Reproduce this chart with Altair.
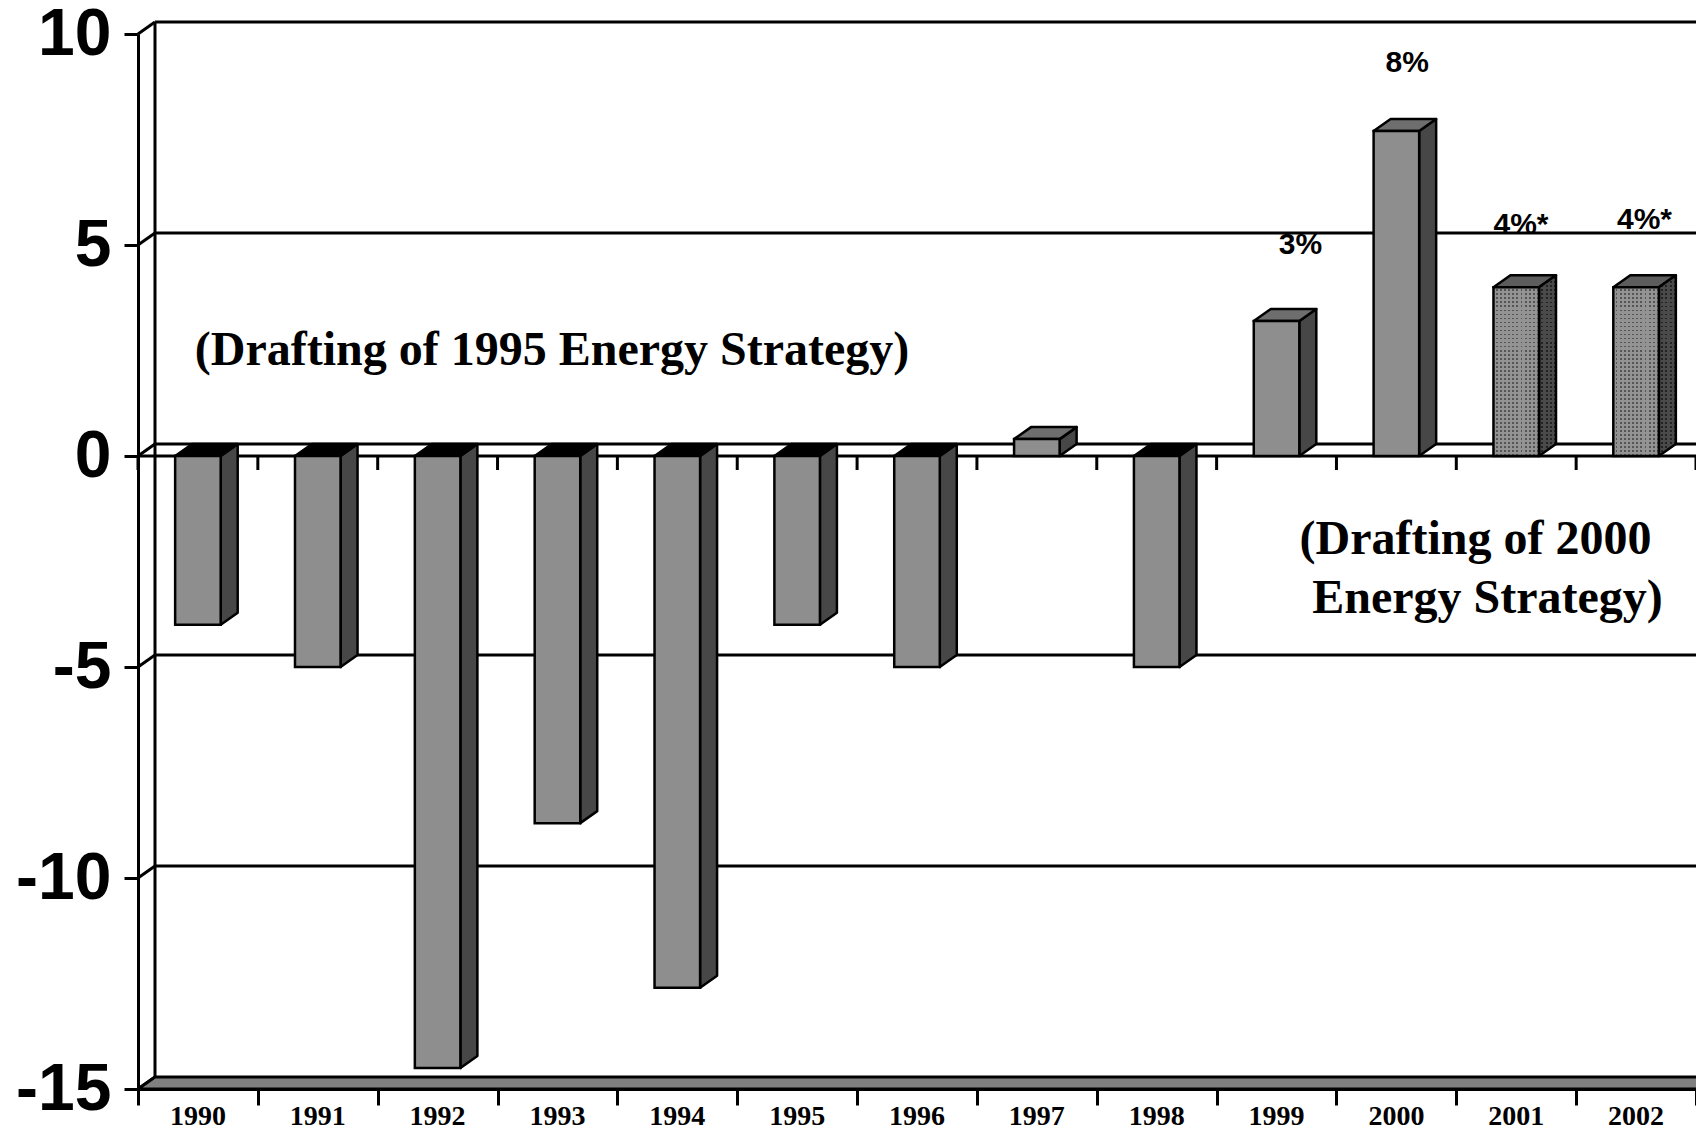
import altair as alt
import pandas as pd

# ---------------- data ----------------
years = ["1990", "1991", "1992", "1993", "1994", "1995", "1996",
         "1997", "1998", "1999", "2000", "2001", "2002"]
values = [-4.0, -5.0, -14.5, -8.7, -12.6, -4.0, -5.0, 0.4, -5.0, 3.2, 7.7, 4.0, 4.0]
projected = [False] * 11 + [True, True]

pct_labels = ["3%", "8%", "4%*", "4%*"]
pct_x = [9.70, 10.59, 11.54, 12.57]      # position in category units
pct_y = [5.01, 9.31, 5.47, 5.60]

note_texts = ["(Drafting of 1995 Energy Strategy)", "(Drafting of 2000", "Energy Strategy)"]
note_x = [3.455, 11.16, 11.26]
note_y = [2.49, -1.99, -3.39]

y_ticks = [-15, -10, -5, 0, 5, 10]
y_min, y_max = -15, 10

# ---------------- geometry / style ----------------
W, H = 1558, 1055
N = len(years)
PX_X = W / N
PX_Y = H / (y_max - y_min)
BAR_L, BAR_R = 0.31, 0.69          # front face inside a category
DX = 17 / PX_X                     # 3-D depth, in category units
DY = 12 / PX_Y                     # 3-D depth, in value units

xs = alt.Scale(domain=[0, N], nice=False, zero=False)
ys = alt.Scale(domain=[y_min, y_max], nice=False, zero=False)

kinds = ["front", "side", "top", "top_p", "top_neg"]
kind_cols = ["#8e8e8e", "#474747", "#6e6e6e", "#5c5c5c", "#000000"]
cscale = alt.Scale(domain=kinds, range=kind_cols)


def stripes(n, light, dark, frac_dark, along_x):
    stops = []
    for k in range(n):
        a, e = k / n, (k + 1) / n
        b = (k + 1 - frac_dark) / n
        stops += [{"offset": a, "color": light}, {"offset": b, "color": light},
                  {"offset": b, "color": dark}, {"offset": e, "color": dark}]
    return {"gradient": "linear", "x1": 0, "y1": 0,
            "x2": 1 if along_x else 0, "y2": 0 if along_x else 1, "stops": stops}


# faces built from values
front_rows, side_rows, top_rows = [], [], []
for i, (v, p) in enumerate(zip(values, projected)):
    xl, xr = i + BAR_L, i + BAR_R
    front_rows.append(dict(id=i, x=xl, x2=xr, y=0, y2=v, kind="front", proj=p))
    side_rows += [dict(id=i, x=xr, y=0, y2=v, kind="side", proj=p),
                  dict(id=i, x=xr + DX, y=DY, y2=v + DY, kind="side", proj=p)]
    t = max(v, 0)
    tk = "top_neg" if v < 0 else ("top_p" if p else "top")
    top_rows += [dict(id=i, x=xl, y=t, y2=t, kind=tk),
                 dict(id=i, x=xl + DX, y=t, y2=t + DY, kind=tk),
                 dict(id=i, x=xr, y=t, y2=t + DY, kind=tk),
                 dict(id=i, x=xr + DX, y=t + DY, y2=t + DY, kind=tk)]
front_df = pd.DataFrame(front_rows)
side_df = pd.DataFrame(side_rows)
top_df = pd.DataFrame(top_rows)

# floor at the bottom
floor_df = pd.DataFrame([
    dict(x=0, y=y_min, y2=y_min),
    dict(x=DX, y=y_min, y2=y_min + DY),
    dict(x=N, y=y_min, y2=y_min + DY),
    dict(x=N + DX, y=y_min + DY, y2=y_min + DY),
])

# wall lines
seg = []
for v in y_ticks:
    seg.append(dict(x=0, x2=DX, y=v, y2=v + DY))                 # side-wall diagonals
    if v > y_min:
        seg.append(dict(x=DX, x2=N + DX, y=v + DY, y2=v + DY))    # back-wall gridlines
seg.append(dict(x=DX, x2=DX, y=y_min + DY, y2=y_max + DY))        # back-left edge
seg.append(dict(x=0, x2=N, y=0, y2=0))                            # zero category axis
zt = 14 / PX_Y
for k in range(N + 1):
    seg.append(dict(x=k, x2=k, y=0, y2=-zt))                      # ticks on zero axis
seg_df = pd.DataFrame(seg)

year_df = pd.DataFrame(dict(x=[i + 0.5 for i in range(N)], y=[y_min] * N, t=years))
pct_df = pd.DataFrame(dict(x=pct_x, y=pct_y, t=pct_labels))
note_df = pd.DataFrame(dict(x=note_x, y=note_y, t=note_texts))

X = lambda f="x": alt.X(f + ":Q", scale=xs, axis=alt.Axis(
    values=list(range(N + 1)), labels=False, tickSize=16, tickWidth=3, tickColor="black",
    domainColor="black", domainWidth=3, title=None, grid=False))
Y = lambda f="y": alt.Y(f + ":Q", scale=ys, stack=None, axis=alt.Axis(
    values=y_ticks, labelFont="Liberation Sans",
    labelFontSize=66, labelFontWeight="bold",
    labelColor="black", labelPadding=13, tickSize=14, tickWidth=3, tickColor="black",
    domainColor="black", domainWidth=3, title=None, grid=False,
    labelExpr="replace(datum.label, '\u2212', '-')"))

lines = alt.Chart(seg_df).mark_rule(color="black", strokeWidth=3).encode(
    x=X(), x2="x2:Q", y=Y(), y2="y2:Q")

floor = alt.Chart(floor_df).mark_area(color="#808080", stroke="black", strokeWidth=3,
                                      interpolate="linear").encode(x=X(), y=Y(), y2="y2:Q")

hist_side = side_df[~side_df.proj]
proj_side = side_df[side_df.proj]
hist_front = front_df[~front_df.proj]
proj_front = front_df[front_df.proj]

sides = alt.Chart(hist_side).mark_area(stroke="black", strokeWidth=2.5, interpolate="linear",
                                       strokeJoin="round").encode(
    x=X(), y=Y(), y2="y2:Q", detail="id:N",
    color=alt.Color("kind:N", scale=cscale, legend=None))
tops = alt.Chart(top_df).mark_area(stroke="black", strokeWidth=2.5, interpolate="linear",
                                   strokeJoin="round").encode(
    x=X(), y=Y(), y2="y2:Q", detail="id:N",
    color=alt.Color("kind:N", scale=cscale, legend=None))
fronts = alt.Chart(hist_front).mark_rect(stroke="black", strokeWidth=2.5).encode(
    x=X(), x2="x2:Q", y=Y(), y2="y2:Q",
    color=alt.Color("kind:N", scale=cscale, legend=None))

# dotted texture of the forecast bars (2001, 2002)
proj_layers = []
for i in [k for k, p in enumerate(projected) if p]:
    v = values[i]
    fw = (BAR_R - BAR_L) * PX_X
    fh = abs(v) * PX_Y
    fr = proj_front[proj_front.id == i]
    sd = proj_side[proj_side.id == i]
    proj_layers += [
        alt.Chart(sd).mark_area(interpolate="linear", strokeWidth=0,
                                fill=stripes(max(1, round(DX * PX_X / 4)), "#4a4a4a", "#222222", 0.45, True)
                                ).encode(x=X(), y=Y(), y2="y2:Q"),
        alt.Chart(sd).mark_area(interpolate="linear", stroke="black", strokeWidth=2.5, strokeJoin="round",
                                fill=stripes(round((fh + 12) / 4), "#4a4a4a", "rgba(0,0,0,0)", 0.45, False)
                                ).encode(x=X(), y=Y(), y2="y2:Q"),
        alt.Chart(fr).mark_rect(strokeWidth=0,
                                fill=stripes(round(fw / 4), "#939393", "#555555", 0.45, True)
                                ).encode(x=X(), x2="x2:Q", y=Y(), y2="y2:Q"),
        alt.Chart(fr).mark_rect(stroke="black", strokeWidth=2.5,
                                fill=stripes(round(fh / 4), "#939393", "rgba(0,0,0,0)", 0.45, False)
                                ).encode(x=X(), x2="x2:Q", y=Y(), y2="y2:Q"),
    ]

year_txt = alt.Chart(year_df).mark_text(font="Liberation Serif", fontSize=28, fontWeight="bold",
                                        color="black", baseline="middle", dy=28).encode(
    x=X(), y=Y(), text="t:N")
pct_txt = alt.Chart(pct_df).mark_text(font="Liberation Sans", fontSize=30, fontWeight="bold",
                                      color="black", baseline="middle").encode(
    x=X(), y=Y(), text="t:N")
note_txt = alt.Chart(note_df).mark_text(font="Liberation Serif", fontSize=48, fontWeight="bold",
                                        color="black", baseline="middle").encode(
    x=X(), y=Y(), text="t:N")

chart = alt.layer(lines, floor, sides, tops, fronts, *proj_layers, year_txt, pct_txt, note_txt).properties(
    width=W, height=H,
    autosize=alt.AutoSizeParams(type="none"),
    padding={"left": 130, "top": 26, "right": 0, "bottom": 1125 - 26 - H},
    background="white",
).configure_view(stroke=None)

chart.save("out.html", embed_options={"renderer": "svg", "actions": False})
